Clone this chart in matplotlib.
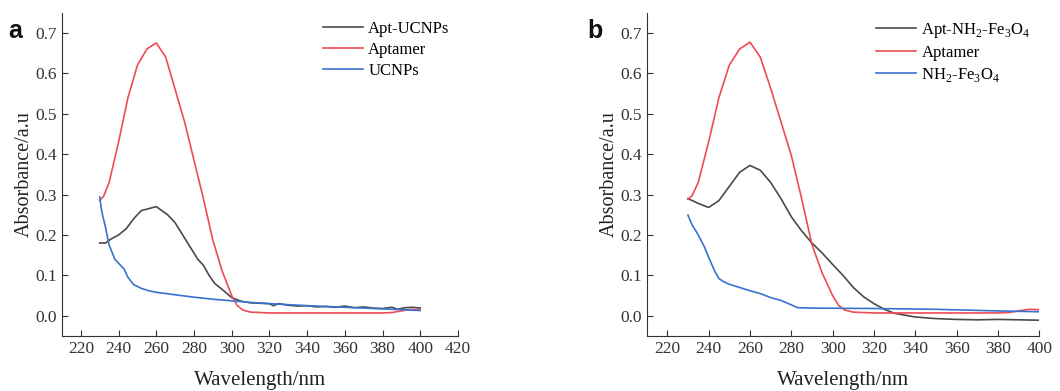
import numpy as np
import matplotlib.pyplot as plt

plt.rcParams['font.family'] = ['Liberation Serif', 'DejaVu Serif']
plt.rcParams['mathtext.fontset'] = 'custom'
plt.rcParams['mathtext.rm'] = 'Liberation Serif'

# panel a
wl_a_apt = [230, 232, 235, 240, 245, 250, 255, 260, 265, 270, 275, 280, 285, 290, 295, 300,
            303, 306, 310, 320, 340, 360, 380, 385, 390, 395, 400]
aptamer_a = [0.286, 0.295, 0.33, 0.43, 0.54, 0.62, 0.66, 0.675, 0.64, 0.56, 0.48, 0.385, 0.29,
             0.187, 0.11, 0.05, 0.025, 0.014, 0.009, 0.007, 0.007, 0.007, 0.007, 0.008, 0.012,
             0.016, 0.014]
wl_a_ucnp_apt = [230, 233, 236, 240, 244, 248, 252, 256, 260, 263, 266, 270, 274, 278, 282, 285,
                 288, 291, 295, 300, 305, 310, 315, 320, 322, 325, 330, 335, 340, 345, 350, 355,
                 360, 365, 370, 375, 380, 385, 388, 392, 396, 400]
apt_ucnps = [0.18, 0.18, 0.19, 0.2, 0.215, 0.24, 0.26, 0.265, 0.27, 0.26, 0.25, 0.23, 0.2, 0.17,
             0.14, 0.125, 0.1, 0.08, 0.065, 0.045, 0.036, 0.032, 0.031, 0.03, 0.025, 0.03, 0.026,
             0.024, 0.025, 0.022, 0.023, 0.021, 0.024, 0.02, 0.022, 0.019, 0.018, 0.021, 0.016,
             0.02, 0.021, 0.019]
wl_a_ucnp = [230, 231, 233, 235, 238, 240, 243, 245, 248, 252, 256, 260, 270, 280, 290, 300,
             310, 320, 340, 360, 380, 400]
ucnps = [0.294, 0.26, 0.22, 0.175, 0.14, 0.13, 0.115, 0.095, 0.077, 0.068, 0.062, 0.058, 0.052,
         0.046, 0.041, 0.037, 0.033, 0.03, 0.025, 0.021, 0.017, 0.013]

# panel b
wl_b_apt = [230, 232, 235, 240, 245, 250, 255, 260, 265, 270, 275, 280, 285, 290, 295, 300,
            303, 306, 310, 320, 340, 360, 380, 385, 390, 395, 400]
aptamer_b = [0.288, 0.297, 0.33, 0.43, 0.54, 0.62, 0.66, 0.677, 0.64, 0.563, 0.48, 0.397, 0.29,
             0.176, 0.105, 0.05, 0.025, 0.014, 0.009, 0.007, 0.007, 0.007, 0.007, 0.008, 0.012,
             0.016, 0.015]
wl_b_fe_apt = [230, 235, 240, 245, 250, 255, 260, 265, 270, 275, 280, 285, 290, 295, 300, 305,
               310, 315, 320, 325, 330, 340, 350, 360, 370, 380, 390, 400]
apt_fe3o4 = [0.29, 0.278, 0.268, 0.285, 0.32, 0.355, 0.372, 0.36, 0.33, 0.29, 0.245, 0.21, 0.18,
             0.155, 0.127, 0.1, 0.07, 0.047, 0.03, 0.016, 0.006, -0.003, -0.007, -0.009, -0.01,
             -0.009, -0.01, -0.011]
wl_b_fe = [230, 232, 235, 238, 240, 243, 245, 247, 250, 255, 260, 265, 270, 275, 280, 283, 290,
           320, 350, 380, 400]
nh2_fe3o4 = [0.249, 0.225, 0.2, 0.17, 0.145, 0.11, 0.092, 0.085, 0.078, 0.07, 0.062, 0.055,
             0.045, 0.038, 0.027, 0.02, 0.019, 0.018, 0.016, 0.012, 0.01]

c_black = '#4a4a4a'
c_red = '#f04a55'
c_blue = '#3a72d0'

fig = plt.figure(figsize=(10.6, 3.91), dpi=100)
ax1 = fig.add_axes([0.0585, 0.1407, 0.3735, 0.827])
ax2 = fig.add_axes([0.610, 0.1407, 0.3705, 0.827])

ax1.plot(wl_a_ucnp_apt, apt_ucnps, color=c_black, lw=1.2, label='Apt-UCNPs')
ax1.plot(wl_a_apt, aptamer_a, color=c_red, lw=1.2, label='Aptamer')
ax1.plot(wl_a_ucnp, ucnps, color=c_blue, lw=1.2, label='UCNPs')
ax1.set_xlim(210, 420)
ax1.set_xticks(np.arange(220, 421, 20))

ax2.plot(wl_b_fe_apt, apt_fe3o4, color=c_black, lw=1.2, label=r'Apt-NH$_2$-Fe$_3$O$_4$')
ax2.plot(wl_b_apt, aptamer_b, color=c_red, lw=1.2, label='Aptamer')
ax2.plot(wl_b_fe, nh2_fe3o4, color=c_blue, lw=1.2, label=r'NH$_2$-Fe$_3$O$_4$')
ax2.set_xlim(210, 400)
ax2.set_xticks(np.arange(220, 401, 20))

for ax, lab, lx in [(ax1, 'a', -0.137), (ax2, 'b', -0.152)]:
    ax.set_ylim(-0.05, 0.75)
    ax.set_yticks(np.arange(0, 0.71, 0.1))
    ax.yaxis.set_major_formatter(plt.FormatStrFormatter('%.1f'))
    ax.spines['top'].set_visible(False)
    ax.spines['right'].set_visible(False)
    ax.spines['left'].set_color('#333333')
    ax.spines['bottom'].set_color('#333333')
    ax.tick_params(direction='in', length=4, labelsize=12.5, colors='#333333')
    ax.set_xlabel('Wavelength/nm', fontsize=15, color='#222222', labelpad=10)
    ax.set_ylabel('Absorbance/a.u', fontsize=14.5, color='#222222', labelpad=1)
    ax.legend(loc='upper right', frameon=False, fontsize=12, handlelength=2.4,
              handletextpad=0.3, labelspacing=0.3, borderaxespad=0.1)
    ax.text(lx, 0.92, lab, transform=ax.transAxes, fontsize=18, fontweight='bold',
            family='Liberation Sans', color='#111111')

fig.savefig('out.png', dpi=100)
